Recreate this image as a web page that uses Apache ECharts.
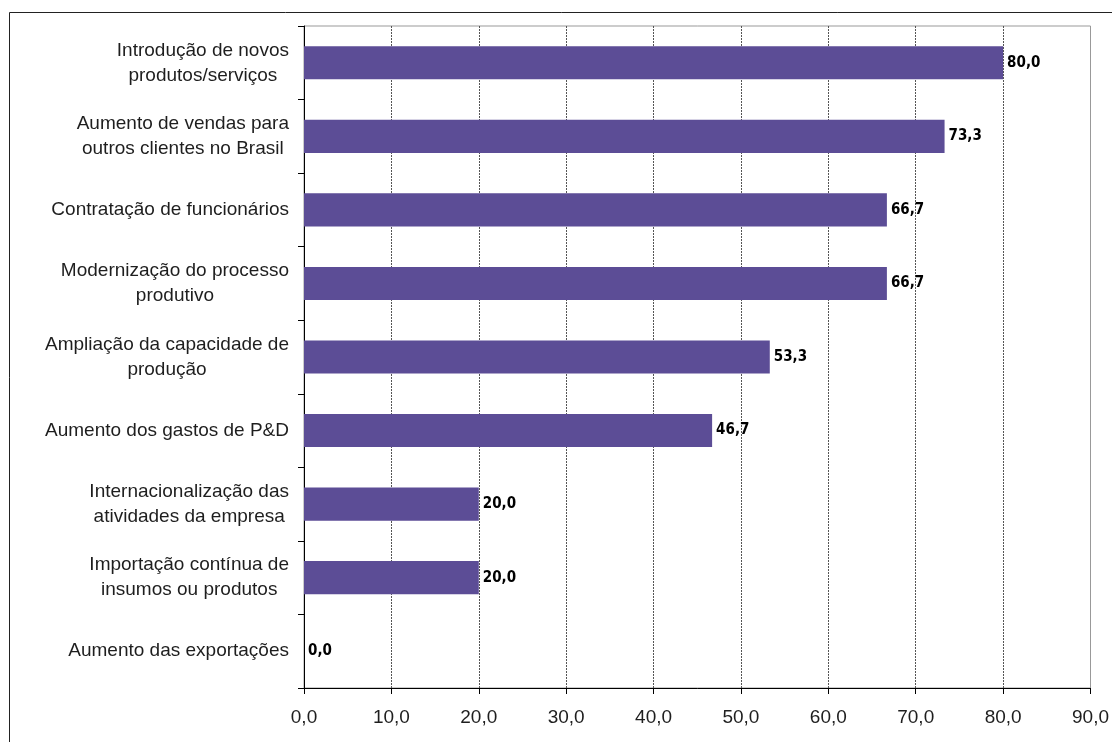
<!DOCTYPE html>
<html>
<head>
<meta charset="utf-8">
<script src="https://cdn.jsdelivr.net/npm/echarts@6/dist/echarts.min.js"></script>
<style>
html,body{margin:0;padding:0;background:#fff;}
#chart{width:1112px;height:742px;}
</style>
</head>
<body>
<div id="chart"></div>
<script>
const categories = [
  "Introdução de novos\nprodutos/serviços",
  "Aumento de vendas para\noutros clientes no Brasil",
  "Contratação de funcionários",
  "Modernização do processo\nprodutivo",
  "Ampliação da capacidade de\nprodução",
  "Aumento dos gastos de P&D",
  "Internacionalização das\natividades da empresa",
  "Importação contínua de\ninsumos ou produtos",
  "Aumento das exportações"
];
const values = [80.0, 73.3, 66.7, 66.7, 53.3, 46.7, 20.0, 20.0, 0.0];
const axisMin = 0, axisMax = 90, axisStep = 10;

const fmt = v => Number(v).toFixed(1).replace('.', ',');
const FONT = '"Liberation Sans", Arial, sans-serif';

const chart = echarts.init(document.getElementById('chart'), null, {renderer: 'canvas'});
chart.setOption({
  animation: false,
  backgroundColor: '#ffffff',
  graphic: [{
    type: 'rect',
    silent: true,
    shape: {x: 9.5, y: 12.5, width: 1300, height: 1000},
    style: {fill: 'none', stroke: '#222', lineWidth: 1}
  }],
  grid: {
    left: 304, right: 21, top: 26, bottom: 54,
    show: true, borderColor: '#999', borderWidth: 1, backgroundColor: 'transparent'
  },
  xAxis: {
    type: 'value',
    min: axisMin, max: axisMax, interval: axisStep,
    axisLine: {show: true, lineStyle: {color: '#000', width: 1}},
    axisTick: {show: true, length: 6, lineStyle: {color: '#000'}},
    axisLabel: {
      formatter: fmt, margin: 20,
      fontFamily: FONT, fontSize: 19, color: '#1e1e1e'
    },
    splitLine: {show: true, showMinLine: false, showMaxLine: false,
      lineStyle: {type: [2, 1], color: '#555', width: 1}}
  },
  yAxis: {
    type: 'category',
    data: categories,
    inverse: true,
    axisLine: {show: true, lineStyle: {color: '#000', width: 1}},
    axisTick: {show: true, length: 6, lineStyle: {color: '#000'}},
    axisLabel: {
      margin: 15,
      formatter: v => v.split('\n').map(s => '{c|' + s + '}').join('\n'),
      rich: {
        c: {align: 'center', fontFamily: FONT, fontSize: 19, lineHeight: 25, color: '#1e1e1e'}
      }
    },
    splitLine: {show: false}
  },
  series: [{
    type: 'bar',
    data: values,
    barWidth: '45%',
    itemStyle: {color: '#5C4D96'},
    label: {
      show: true,
      position: 'right',
      distance: 4,
      formatter: p => fmt(p.value),
      fontFamily: '"Liberation Sans Narrow", "DejaVu Sans Condensed", sans-serif',
      fontWeight: 'bold',
      fontSize: 15,
      color: '#000'
    }
  }]
});
</script>
</body>
</html>
